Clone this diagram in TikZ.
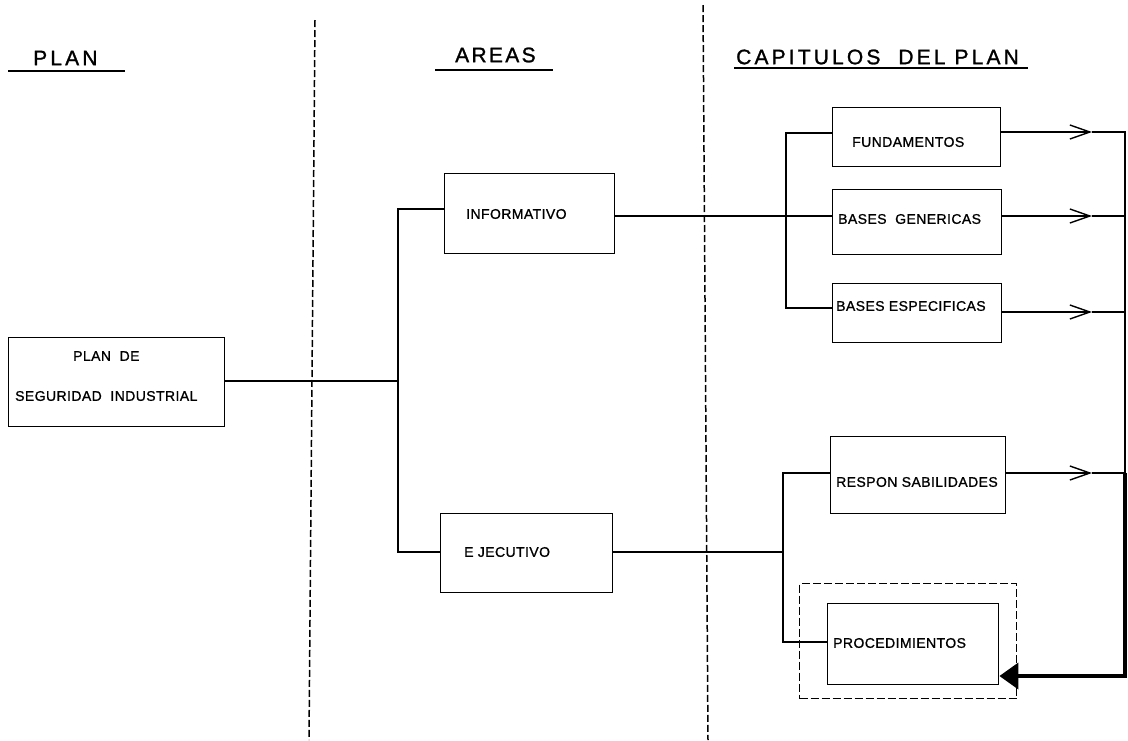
\documentclass[tikz,border=0pt]{standalone}
\usepackage{fontspec}
\setmainfont{Liberation Sans}
\newfontfamily\hdfont[LetterSpace=15,FakeBold=1.2]{Liberation Sans}
\newfontfamily\lbfont[LetterSpace=3,FakeBold=1]{Liberation Sans}
\usetikzlibrary{arrows.meta}
\begin{document}
\begin{tikzpicture}[x=1pt,y=-1pt,
  box/.style={draw,line width=1.4pt,inner sep=0pt,anchor=north west},
  lbl/.style={inner sep=0pt,anchor=west,font=\lbfont\fontsize{14}{16}\selectfont},
  hdr/.style={inner sep=0pt,anchor=west,font=\hdfont\fontsize{21}{24}\selectfont},
  ul/.style={line width=2.2pt},
  conn/.style={line width=1.4pt},
  sep/.style={line width=1.5pt,dash pattern=on 7pt off 3pt},
  opn/.style={line width=1.4pt,-{Straight Barb[length=20pt,width=14pt]}},
  thk/.style={line width=3.8pt,line join=miter,-{Triangle[length=19pt,width=26pt]}}
]
\useasboundingbox (0,0) rectangle (1128,740);
% separators
\draw[sep] (315,20) -- (309,740);
\draw[sep] (703,5) -- (708,740);
% headers
\node[hdr] (hplan) at (33,58) {PLAN};
\node[hdr] (hareas) at (455,55) {\addfontfeature{LetterSpace=11}AREAS};
\node[hdr] (hcap) at (736,57) {CAPITULOS\ \ DEL PLAN};
\draw[ul] (8,71) -- (125,71);
\draw[ul] (435,70) -- (553,70);
\draw[ul] (734,68) -- (1028,68);
% boxes
\node[box,minimum width=216pt,minimum height=89pt] (plan) at (8,337) {};
\node[box,minimum width=170pt,minimum height=80pt] (info) at (444,173) {};
\node[box,minimum width=172pt,minimum height=79pt] (ejec) at (440,513) {};
\node[box,minimum width=168pt,minimum height=59pt] (fund) at (832,107) {};
\node[box,minimum width=169pt,minimum height=65pt] (gen) at (832,189) {};
\node[box,minimum width=169pt,minimum height=59pt] (esp) at (832,283) {};
\node[box,minimum width=175pt,minimum height=77pt] (resp) at (830,436) {};
\node[box,minimum width=171pt,minimum height=81pt] (proc) at (827,603) {};
\node[draw,line width=1.4pt,dash pattern=on 8pt off 3pt,inner sep=0pt,anchor=north west,
  minimum width=217pt,minimum height=115pt] (grp) at (799,583) {};
% labels
\node[lbl] (tplan1) at (73,356) {PLAN\ \ DE};
\node[lbl] (tplan2) at (15,396) {SEGURIDAD\ \ INDUSTRIAL};
\node[lbl] (tinfo) at (466,214) {INFORMATIVO};
\node[lbl] (tejec) at (464,552) {E JECUTIVO};
\node[lbl] (tfund) at (852,142) {FUNDAMENTOS};
\node[lbl] (tgen) at (838,219) {BASES\ \ GENERICAS};
\node[lbl] (tesp) at (836,306) {BASES ESPECIFICAS};
\node[lbl] (tresp) at (836,482) {RESPON SABILIDADES};
\node[lbl] (tproc) at (833,643) {PROCEDIMIENTOS};
% junctions
\coordinate (a1) at (398,209);
\coordinate (a2) at (398,552);
\coordinate (b0) at (786,216);
\coordinate (b1) at (786,133);
\coordinate (b2) at (786,308);
\coordinate (c0) at (783,552);
\coordinate (c1) at (783,473);
\coordinate (c2) at (783,642);
\coordinate (t1) at (1092,132);
\coordinate (t2) at (1092,216);
\coordinate (t3) at (1092,312);
\coordinate (t4) at (1092,473);
\coordinate (r1) at (1125,132);
\coordinate (r2) at (1125,216);
\coordinate (r3) at (1125,312);
\coordinate (r4) at (1125,473);
\coordinate (r5) at (1125,676);
% left tree
\draw[conn] (plan.east |- 0,381) -- (a1 |- 0,381);
\draw[conn] (info.west |- a1) -- (a1) -- (a2) -- (ejec.west |- a2);
% informativo branch
\draw[conn] (info.east |- b0) -- (gen.west |- b0);
\draw[conn] (fund.west |- b1) -- (b1) -- (b2) -- (esp.west |- b2);
% ejecutivo branch
\draw[conn] (ejec.east |- c0) -- (c0);
\draw[conn] (resp.west |- c1) -- (c1) -- (c2) -- (proc.west |- c2);
% outputs
\draw[opn] (fund.east |- t1) -- (t1);
\draw[opn] (gen.east |- t2) -- (t2);
\draw[opn] (esp.east |- t3) -- (t3);
\draw[opn] (resp.east |- t4) -- (t4);
\draw[conn] (t1) -- (r1) -- (r4);
\draw[conn] (t2) -- (r2);
\draw[conn] (t3) -- (r3);
\draw[conn] (t4) -- (r4);
\draw[thk] (r4) -- (r5) -- (proc.east |- r5);
\end{tikzpicture}
\end{document}
